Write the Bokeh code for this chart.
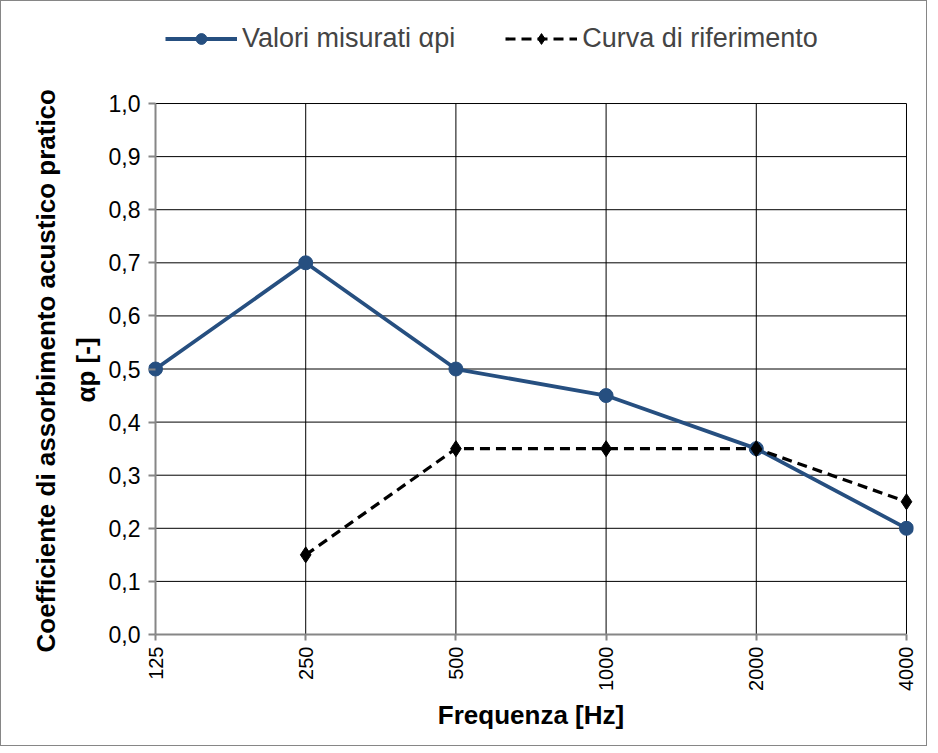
import math
from bokeh.plotting import figure
from bokeh.models import FixedTicker, Legend, LegendItem, Range1d, Title
from bokeh.embed import file_html
from bokeh.resources import INLINE

categories = ["125", "250", "500", "1000", "2000", "4000"]
measured = [0.5, 0.7, 0.5, 0.45, 0.35, 0.2]
reference = [float("nan"), 0.15, 0.35, 0.35, 0.35, 0.25]
y_ticks = [0.0, 0.1, 0.2, 0.3, 0.4, 0.5, 0.6, 0.7, 0.8, 0.9, 1.0]
y_tick_labels = ["0,0", "0,1", "0,2", "0,3", "0,4", "0,5", "0,6", "0,7", "0,8", "0,9", "1,0"]
y_title_lines = ["Coefficiente di assorbimento acustico pratico", "αp [-]"]
x_title = "Frequenza [Hz]"

xs = list(range(len(categories)))
x_last = xs[-1]
y_min, y_max = y_ticks[0], y_ticks[-1]
FONT = "Liberation Sans"
BLUE = "#264F80"
AXIS_GREY = "#868686"
PAD = 0.0467          # small room so edge markers are not clipped
Y_TOP = 1.1733        # room above 1,0 for the legend

p = figure(width=927, height=746, output_backend="svg", toolbar_location=None,
           x_range=Range1d(-PAD, x_last + PAD), y_range=Range1d(y_min, Y_TOP),
           min_border_left=147, min_border_right=15, min_border_top=10, min_border_bottom=113,
           styles={"border": "1px solid #868686"})
p.outline_line_color = None
p.xgrid.visible = False
p.ygrid.visible = False

# grid lines (only inside the 0..1 / 125..4000 plot area)
p.segment(x0=[0] * len(y_ticks[1:]), y0=y_ticks[1:], x1=[x_last] * len(y_ticks[1:]), y1=y_ticks[1:],
          line_color="black", line_width=1)
p.segment(x0=xs[1:], y0=[y_min] * len(xs[1:]), x1=xs[1:], y1=[y_max] * len(xs[1:]),
          line_color="black", line_width=1)
# value axis line at the first category
p.segment(x0=[0], y0=[y_min], x1=[0], y1=[y_max], line_color=AXIS_GREY, line_width=2)

# axes
p.xaxis.ticker = FixedTicker(ticks=xs)
p.xaxis.major_label_overrides = {i: c for i, c in enumerate(categories)}
p.xaxis.major_label_orientation = math.pi / 2
p.xaxis.bounds = (0, x_last)
p.yaxis.ticker = FixedTicker(ticks=y_ticks)
p.yaxis.major_label_overrides = {t: l for t, l in zip(y_ticks, y_tick_labels)}
p.yaxis.bounds = (y_min, y_max)
for ax in (p.xaxis, p.yaxis):
    ax.axis_line_color = AXIS_GREY
    ax.axis_line_width = 2
    ax.major_tick_line_color = AXIS_GREY
    ax.major_tick_line_width = 2
    ax.minor_tick_line_color = None
    ax.major_label_text_font = FONT
    ax.major_label_text_color = "black"
    ax.axis_label_text_font = FONT
    ax.axis_label_text_font_style = "bold"
    ax.axis_label_text_font_size = "26px"
    ax.axis_label_text_color = "black"
p.yaxis.axis_line_color = None
p.yaxis.major_tick_in = 7
p.yaxis.major_tick_out = 0
p.yaxis.major_label_standoff = 8
p.yaxis.major_label_text_font_size = "23px"
p.xaxis.major_tick_in = 0
p.xaxis.major_tick_out = 6
p.xaxis.major_label_standoff = 6
p.xaxis.major_label_text_font_size = "20px"

p.xaxis.axis_label = x_title
p.xaxis.axis_label_standoff = 6

# y title: two lines centred on the 0..1 part of the frame
t2 = Title(text=y_title_lines[1], align="left", offset=232, standoff=9,
           text_font=FONT, text_font_size="26px", text_font_style="bold", text_color="black")
t1 = Title(text=y_title_lines[0], align="left", offset=-18, standoff=7,
           text_font=FONT, text_font_size="26px", text_font_style="bold", text_color="black")
p.add_layout(t2, "left")
p.add_layout(t1, "left")

# series
l1 = p.line(xs, measured, line_color=BLUE, line_width=3.8)
m1 = p.scatter(xs, measured, marker="circle", size=14, fill_color=BLUE, line_color=BLUE)
l2 = p.line(xs, reference, line_color="black", line_width=3.2, line_dash="10 6")
m2 = p.scatter(xs, reference, marker="diamond", size=16, fill_color="black", line_color="black")

legend = Legend(items=[LegendItem(label="Valori misurati αpi", renderers=[l1, m1]),
                       LegendItem(label="Curva di riferimento", renderers=[l2, m2])],
                orientation="horizontal", location=(17, 580),
                label_text_font=FONT, label_text_font_size="27px",
                glyph_width=72, glyph_height=27, label_height=27, label_standoff=5, spacing=50,
                padding=3, margin=0, border_line_color=None, background_fill_alpha=0)
p.add_layout(legend, "center")

open("out.html", "w").write(file_html(p, INLINE))
